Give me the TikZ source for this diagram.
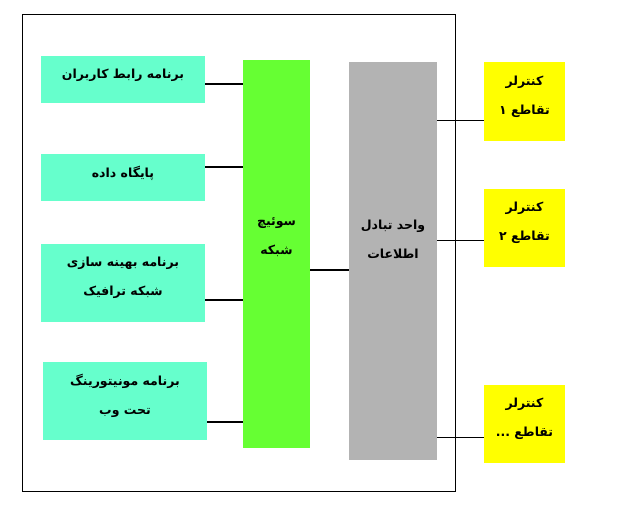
\documentclass[tikz,border=0pt]{standalone}
\usepackage{fontspec}
\newfontfamily\farsi[Script=Arabic]{DejaVu Sans}
\TeXXeTstate=1
\definecolor{appcyan}{RGB}{102,255,204}
\definecolor{switchgreen}{RGB}{102,255,51}
\definecolor{unitgray}{RGB}{179,179,179}
\definecolor{ctrlyellow}{RGB}{255,255,0}
\tikzset{
	txt/.style={inner sep=0pt,align=center,font=\farsi\bfseries\fontsize{12.5}{29}\selectfont},
	box/.style={inner sep=0pt},
	app/.style={box,fill=appcyan,minimum width=164pt},
	ctrl/.style={box,fill=ctrlyellow,minimum width=81pt,minimum height=78pt},
	link/.style={line width=1.6pt},
	wire/.style={line width=0.8pt}
}
\begin{document}
\begin{tikzpicture}[x=1pt,y=-1pt]
		\useasboundingbox (0,0) rectangle (618,508);
		\draw[line width=0.8pt] (22,14) rectangle (455,491);
		% applications
		\node[app,minimum height=47pt,label={[txt,yshift=4pt]center:{\beginR برنامه رابط کاربران\endR}}] (ui) at (123,79.5) {};
		\node[app,minimum height=47pt,label={[txt,yshift=4pt]center:{\beginR پایگاه داده\endR}}] (db) at (123,177.5) {};
		\node[app,minimum height=78pt,label={[txt,yshift=5pt]center:{\beginR برنامه بهینه سازی\endR\\\beginR شبکه ترافیک\endR}}] (opt) at (123,283) {};
		\node[app,minimum height=78pt,label={[txt,yshift=5pt]center:{\beginR برنامه مونیتورینگ\endR\\\beginR تحت وب\endR}}] (mon) at (125,401) {};
		% switch and exchange unit
		\node[box,fill=switchgreen,minimum width=67pt,minimum height=388pt,label={[txt,yshift=17pt]center:{\beginR سوئیچ\endR\\\beginR شبکه\endR}}] (sw) at (276.5,254) {};
		\node[box,fill=unitgray,minimum width=88pt,minimum height=398pt,label={[txt,yshift=22pt]center:{\beginR واحد تبادل\endR\\\beginR اطلاعات\endR}}] (xu) at (393,261) {};
		% controllers
		\node[ctrl,label={[txt,yshift=4.5pt]center:{\beginR کنترلر\endR\\\beginR تقاطع ۱\endR}}] (c1) at (524.5,101.5) {};
		\node[ctrl,label={[txt,yshift=5pt]center:{\beginR کنترلر\endR\\\beginR تقاطع ۲\endR}}] (c2) at (524.5,228) {};
		\node[ctrl,label={[txt,yshift=5pt]center:{\beginR کنترلر\endR\\\beginR تقاطع ...\endR}}] (c3) at (524.5,424) {};
		% connections
		\draw[link] ([yshift=-4.5pt]ui.east) -- ([yshift=-4.5pt]ui.east -| sw.west);
		\draw[link] ([yshift=10.5pt]db.east) -- ([yshift=10.5pt]db.east -| sw.west);
		\draw[link] ([yshift=-17pt]opt.east) -- ([yshift=-17pt]opt.east -| sw.west);
		\draw[link] ([yshift=-21pt]mon.east) -- ([yshift=-21pt]mon.east -| sw.west);
		\draw[link] ([yshift=-16pt]sw.east) -- ([yshift=-16pt]sw.east -| xu.west);
		\draw[wire] ([yshift=-18.5pt]c1.west) -- ([yshift=-18.5pt]c1.west -| xu.east);
		\draw[wire] ([yshift=-12pt]c2.west) -- ([yshift=-12pt]c2.west -| xu.east);
		\draw[wire] ([yshift=-13pt]c3.west) -- ([yshift=-13pt]c3.west -| xu.east);
\end{tikzpicture}
\end{document}
